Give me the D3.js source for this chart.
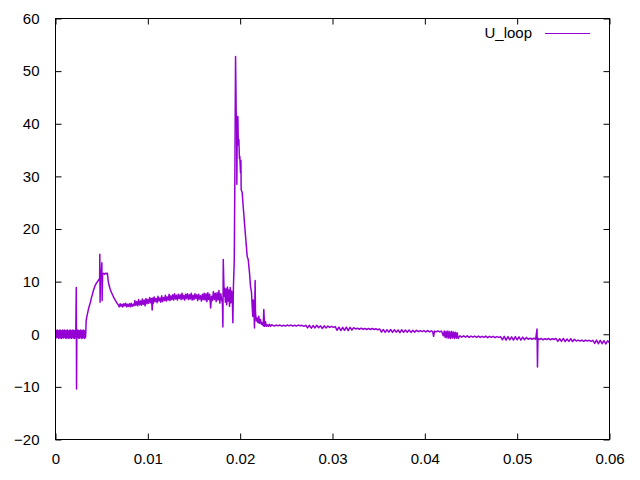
<!DOCTYPE html>
<html>
<head>
<meta charset="utf-8">
<script src="https://d3js.org/d3.v7.min.js"></script>
<style>
  body { margin: 0; background: #fff; }
  text { font-family: "Liberation Sans", Arial, sans-serif; font-size: 15px; fill: #000; }
</style>
</head>
<body>
<div id="chart"></div>
<script>
// U_loop trace, [time in ms, volts]
var startNoise = [
  [0,0.6],[0.05,-0.7],[0.1,0.7],[0.15,-0.6],[0.2,0.8],[0.25,-0.5],[0.3,0.6],[0.35,-0.8],
  [0.4,0.7],[0.45,-0.6],[0.5,0.8],[0.55,-0.7],[0.6,0.5],[0.65,-0.8],[0.7,0.7],[0.75,-0.6],
  [0.8,0.8],[0.85,-0.7],[0.9,0.6],[0.95,-0.5],[1.0,0.8],[1.05,-0.7],[1.1,0.6],[1.15,-0.8],
  [1.2,0.7],[1.25,-0.6],[1.3,0.8],[1.35,-0.7],[1.4,0.5],[1.45,-0.8],[1.5,0.7],[1.55,-0.6],
  [1.6,0.8],[1.65,-0.7],[1.7,0.6],[1.75,-0.8],[1.8,0.7],[1.85,-0.5],[1.9,0.8],[1.95,-0.7],
  [2.0,0.6],[2.05,-0.8],[2.1,0.7],[2.15,-0.6],[2.2,0.5],[2.25,8.9],[2.28,-10.4],[2.31,0.4],
  [2.35,-0.7],[2.4,0.8],[2.45,-0.6],[2.5,0.7],[2.55,-0.8],[2.6,0.6],[2.65,-0.7],[2.7,0.8],
  [2.75,-0.5],[2.8,0.7],[2.85,-0.8],[2.9,0.6],[2.95,-0.7],[3.0,0.8],[3.05,-0.6],[3.1,0.7],
  [3.15,-0.8],[3.2,0.5],[3.25,-0.6],[3.28,0.3]
];
var firstHump = [
  [3.32,2.6],[3.4,3.4],[3.5,4.2],[3.6,5.0],[3.7,5.6],[3.8,6.2],[3.9,7.0],[4.0,7.6],
  [4.1,8.3],[4.2,8.8],[4.3,9.3],[4.4,9.6],[4.5,9.9],[4.6,10.1],[4.7,10.4],[4.78,10.6],
  [4.8,15.2],[4.83,6.1],[4.87,10.8],[4.95,11.2],[5.02,13.6],[5.05,6.4],[5.1,11.4],[5.2,11.6],
  [5.3,11.4],[5.4,11.6],[5.5,11.5],[5.62,11.6],[5.7,10.2],[5.8,9.3],[5.9,8.7],[6.0,8.2],
  [6.1,7.8],[6.2,7.4],[6.3,7.0],[6.4,6.7],[6.5,6.4],[6.6,6.1],[6.7,5.8],[6.8,5.6]
];
var plateau = [
  [6.9,5.2],[7.0,5.8],[7.1,5.3],[7.2,5.7],[7.3,5.2],[7.4,5.8],[7.5,5.4],[7.6,5.9],
  [7.7,5.2],[7.8,5.7],[7.9,5.3],[8.0,5.8],[8.1,5.2],[8.2,5.9],[8.3,5.3],[8.4,5.7],
  [8.5,5.4],[8.6,6.4],[8.7,5.5],[8.8,6.2],[8.9,5.4],[9.0,6.6],[9.1,5.6],[9.2,6.3],
  [9.3,5.5],[9.4,6.7],[9.5,5.7],[9.6,6.5],[9.7,5.4],[9.8,6.8],[9.9,5.8],[10.0,6.6],
  [10.1,5.9],[10.2,7.0],[10.3,6.0],[10.4,6.8],[10.47,4.6],[10.55,6.9],[10.6,5.9],[10.7,7.1],
  [10.8,6.2],[10.9,6.8],[11.0,6.0],[11.1,7.2],[11.2,6.3],[11.3,6.9],[11.4,6.1],[11.5,7.3],
  [11.6,6.2],[11.7,7.0],[11.8,6.4],[11.9,7.4],[12.0,6.3],[12.1,7.1],[12.2,6.5],[12.3,7.6],
  [12.4,6.4],[12.5,7.3],[12.6,6.6],[12.7,7.5],[12.8,6.5],[12.9,7.7],[13.0,6.7],[13.1,7.4],
  [13.2,6.5],[13.3,7.6],[13.4,6.8],[13.5,7.5],[13.6,6.6],[13.7,7.8],[13.8,6.7],[13.9,7.4],
  [14.0,6.5],[14.1,7.6],[14.2,6.8],[14.3,7.7],[14.4,6.6],[14.5,7.5],[14.6,6.7],[14.7,7.8],
  [14.8,6.5],[14.9,7.4],[15.0,6.6],[15.1,7.7],[15.2,6.8],[15.3,7.5],[15.4,6.4],[15.5,7.6],
  [15.6,6.7],[15.7,7.3],[15.8,6.3],[15.9,7.6],[16.0,6.6],[16.1,7.8],[16.2,6.5],[16.3,7.7],
  [16.4,6.2],[16.5,7.9],[16.6,6.6],[16.7,7.6],[16.8,5.0],[16.9,7.2],[17.0,6.4],[17.1,8.1],
  [17.2,6.6],[17.3,7.8],[17.4,6.2],[17.5,7.9],[17.6,6.5],[17.7,8.3],[17.8,5.9],[17.9,7.7],
  [18.0,6.6]
];
var mainPeak = [
  [18.08,5.8],[18.13,1.4],[18.17,14.2],[18.22,10.5],[18.27,7.2],[18.32,8.8],[18.4,6.1],[18.48,8.6],
  [18.55,5.6],[18.62,9.0],[18.7,6.3],[18.78,8.4],[18.85,5.3],[18.92,8.9],[19.0,6.0],[19.08,8.2],
  [19.15,6.8],[19.21,2.2],[19.27,9.1],[19.36,14],[19.43,31],[19.5,52.8],[19.57,42.1],
  [19.62,40.2],[19.64,28.5],[19.68,39.5],[19.75,41.4],[19.8,36],[19.86,37],[19.92,33.4],[19.96,33.8],
  [20.04,30.7],[20.08,33],[20.11,27.5],[20.22,26.9],[20.35,23.8],[20.5,20.4],[20.65,17.2],[20.76,14.8],
  [20.87,14.2],[21.01,11.7],[21.12,9.1],[21.23,7.9],[21.3,5.3],[21.37,3.4],[21.42,6.5],[21.48,5.3],
  [21.55,1.2],[21.62,10.2],[21.66,4.1],[21.75,2.5],[21.84,3.1],[21.93,2.2],[22.02,3.4],[22.1,2.1],
  [22.2,2.8],[22.3,1.9],[22.38,2.2],[22.5,1.6],[22.56,4.7],[22.64,1.5],[22.74,2.4],[22.83,1.5],
  [22.93,1.8],[23.05,1.5],[23.15,1.9],[23.29,1.5],[23.38,1.8]
];
var tail = [
  [23.5,1.75],[23.7,1.55],[23.9,1.75],[24.1,1.6],[24.3,1.75],[24.5,1.55],[24.7,1.7],[24.9,1.55],
  [25.1,1.75],[25.3,1.6],[25.5,1.75],[25.7,1.55],[25.9,1.7],[26.1,1.55],[26.3,1.75],[26.5,1.6],
  [26.7,1.7],[26.9,1.5],[27.1,1.7],[27.3,1.2],[27.5,1.7],[27.7,1.15],[27.9,1.65],[28.1,1.2],
  [28.3,1.7],[28.5,1.25],[28.7,1.6],[28.9,1.1],[29.1,1.6],[29.3,1.2],[29.5,1.55],[29.7,1.3],
  [29.9,1.5],[30.1,1.3],[30.3,1.45],[30.5,0.75],[30.7,1.35],[30.9,0.7],[31.1,1.3],[31.3,0.75],
  [31.5,1.35],[31.7,0.7],[31.9,1.3],[32.1,0.8],[32.3,1.25],[32.5,1.0],[32.7,1.15],[32.9,0.95],
  [33.1,1.15],[33.3,0.95],[33.5,1.1],[33.7,0.9],[33.9,1.1],[34.1,0.9],[34.3,1.1],[34.5,0.9],
  [34.7,1.05],[34.9,0.85],[35.1,1.0],[35.3,0.4],[35.5,0.9],[35.7,0.35],[35.9,0.85],[36.1,0.4],
  [36.3,0.9],[36.5,0.35],[36.7,0.85],[36.9,0.4],[37.1,0.8],[37.3,0.3],[37.5,0.85],[37.7,0.35],
  [37.9,0.8],[38.1,0.4],[38.3,0.8],[38.5,0.35],[38.7,0.75],[38.9,0.4],[39.1,0.75],[39.3,0.5],
  [39.5,0.7],[39.7,0.5],[39.9,0.7],[40.1,0.45],[40.3,0.7],[40.5,0.45],[40.7,0.65],[40.85,0.5],
  [40.95,-0.4],[41.05,0.6],[41.2,0.45],[41.4,0.65],[41.6,0.45],[41.8,0.6],[42.0,-0.3],[42.1,0.6],
  [42.2,-0.6],[42.3,0.55],[42.4,-0.7],[42.5,0.6],[42.6,-0.75],[42.7,0.5],[42.8,-0.8],[42.9,0.55],
  [43.0,-0.7],[43.1,0.45],[43.2,-0.8],[43.3,0.4],[43.4,-0.75],[43.5,0.3],[43.6,-0.8],[43.8,-0.3],
  [44.0,-0.55],[44.2,-0.3],[44.4,-0.55],[44.6,-0.3],[44.8,-0.6],[45.0,-0.35],[45.2,-0.55],[45.4,-0.35],
  [45.6,-0.6],[45.8,-0.35],[46.0,-0.6],[46.2,-0.4],[46.4,-0.6],[46.6,-0.35],[46.8,-0.65],[47.0,-0.4],
  [47.2,-0.6],[47.4,-0.4],[47.6,-0.65],[47.8,-0.45],[48.0,-0.6],[48.2,-0.45],[48.4,-1.05],[48.6,-0.4],
  [48.8,-1.1],[49.0,-0.45],[49.2,-1.05],[49.4,-0.5],[49.6,-1.1],[49.8,-0.45],[50.0,-1.05],[50.2,-0.5],
  [50.4,-1.1],[50.6,-0.55],[50.8,-1.05],[51.0,-0.6],[51.2,-0.95],[51.4,-0.75],[51.6,-0.95],[51.8,-0.75],
  [52.0,-0.95],[52.15,1.0],[52.2,-6.2],[52.25,-0.8],[52.4,-1.0],[52.6,-0.8],[52.8,-1.05],[53.0,-0.85],
  [53.2,-1.0],[53.4,-0.8],[53.6,-1.05],[53.8,-0.85],[54.0,-1.0],[54.2,-0.8],[54.4,-1.35],[54.6,-0.85],
  [54.8,-1.35],[55.0,-0.8],[55.2,-1.4],[55.4,-0.9],[55.6,-1.35],[55.8,-0.85],[56.0,-1.4],[56.2,-0.95],
  [56.4,-1.3],[56.6,-1.1],[56.8,-1.3],[57.0,-1.1],[57.2,-1.35],[57.4,-1.1],[57.6,-1.3],[57.8,-1.15],
  [58.0,-1.35],[58.2,-1.15],[58.4,-1.75],[58.6,-1.1],[58.8,-1.8],[59.0,-1.15],[59.2,-1.8],[59.4,-1.2],
  [59.6,-1.85],[59.8,-1.25],[60.0,-1.6]
];

var xTicks = [0, 0.01, 0.02, 0.03, 0.04, 0.05, 0.06];
var yTicks = [-20, -10, 0, 10, 20, 30, 40, 50, 60];
var seriesName = "U_loop";

var width = 640, height = 480;
var margin = {top: 18.5, right: 30.5, bottom: 40.5, left: 55.5};
var lineColor = "#9400d3";

var data = startNoise.concat(firstHump, plateau, mainPeak, tail);

var svg = d3.select("#chart").append("svg")
  .attr("width", width)
  .attr("height", height);

var x = d3.scaleLinear().domain([0, 0.06]).range([margin.left, width - margin.right]);
var y = d3.scaleLinear().domain([-20, 60]).range([height - margin.bottom, margin.top]);

var tickLen = 6;
var fmt = function(d) { return d3.format("~g")(d); };

// axes, ticks pointing inward, mirrored on the opposite side
svg.append("g")
  .attr("transform", "translate(0," + y.range()[0] + ")")
  .call(d3.axisBottom(x).tickValues(xTicks).tickSizeInner(-tickLen).tickSizeOuter(0).tickPadding(14).tickFormat(fmt))
  .call(function(g) { g.select(".domain").remove(); });

svg.append("g")
  .attr("transform", "translate(0," + y.range()[1] + ")")
  .call(d3.axisTop(x).tickValues(xTicks).tickSizeInner(-tickLen).tickSizeOuter(0).tickFormat(""))
  .call(function(g) { g.select(".domain").remove(); });

svg.append("g")
  .attr("transform", "translate(" + x.range()[0] + ",0)")
  .call(d3.axisLeft(y).tickValues(yTicks).tickSizeInner(-tickLen).tickSizeOuter(0).tickPadding(16))
  .call(function(g) { g.select(".domain").remove(); });

svg.append("g")
  .attr("transform", "translate(" + x.range()[1] + ",0)")
  .call(d3.axisRight(y).tickValues(yTicks).tickSizeInner(-tickLen).tickSizeOuter(0).tickFormat(""))
  .call(function(g) { g.select(".domain").remove(); });

svg.selectAll(".tick line").attr("stroke", "#000");
svg.selectAll(".tick text").style("font-family", "'Liberation Sans', Arial, sans-serif").style("font-size", "15px").attr("fill", "#000");

svg.append("clipPath").attr("id", "clip")
  .append("rect")
  .attr("x", x.range()[0]).attr("y", y.range()[1])
  .attr("width", x.range()[1] - x.range()[0])
  .attr("height", y.range()[0] - y.range()[1]);

var line = d3.line()
  .x(function(d) { return x(d[0] / 1000); })
  .y(function(d) { return y(d[1]); });

svg.append("path")
  .datum(data)
  .attr("clip-path", "url(#clip)")
  .attr("fill", "none")
  .attr("stroke", lineColor)
  .attr("stroke-width", 1.5)
  .attr("stroke-linejoin", "round")
  .attr("d", line);

// frame
svg.append("rect")
  .attr("x", x.range()[0]).attr("y", y.range()[1])
  .attr("width", x.range()[1] - x.range()[0])
  .attr("height", y.range()[0] - y.range()[1])
  .attr("fill", "none")
  .attr("stroke", "#000")
  .attr("stroke-width", 1);

// key
var key = svg.append("g").attr("transform", "translate(0,33)");
key.append("text")
  .attr("x", 532).attr("dy", "0.35em")
  .attr("text-anchor", "end")
  .text(seriesName);
key.append("line")
  .attr("x1", 545).attr("x2", 590)
  .attr("y1", 0.5).attr("y2", 0.5)
  .attr("stroke", lineColor).attr("stroke-width", 1);
</script>
</body>
</html>
